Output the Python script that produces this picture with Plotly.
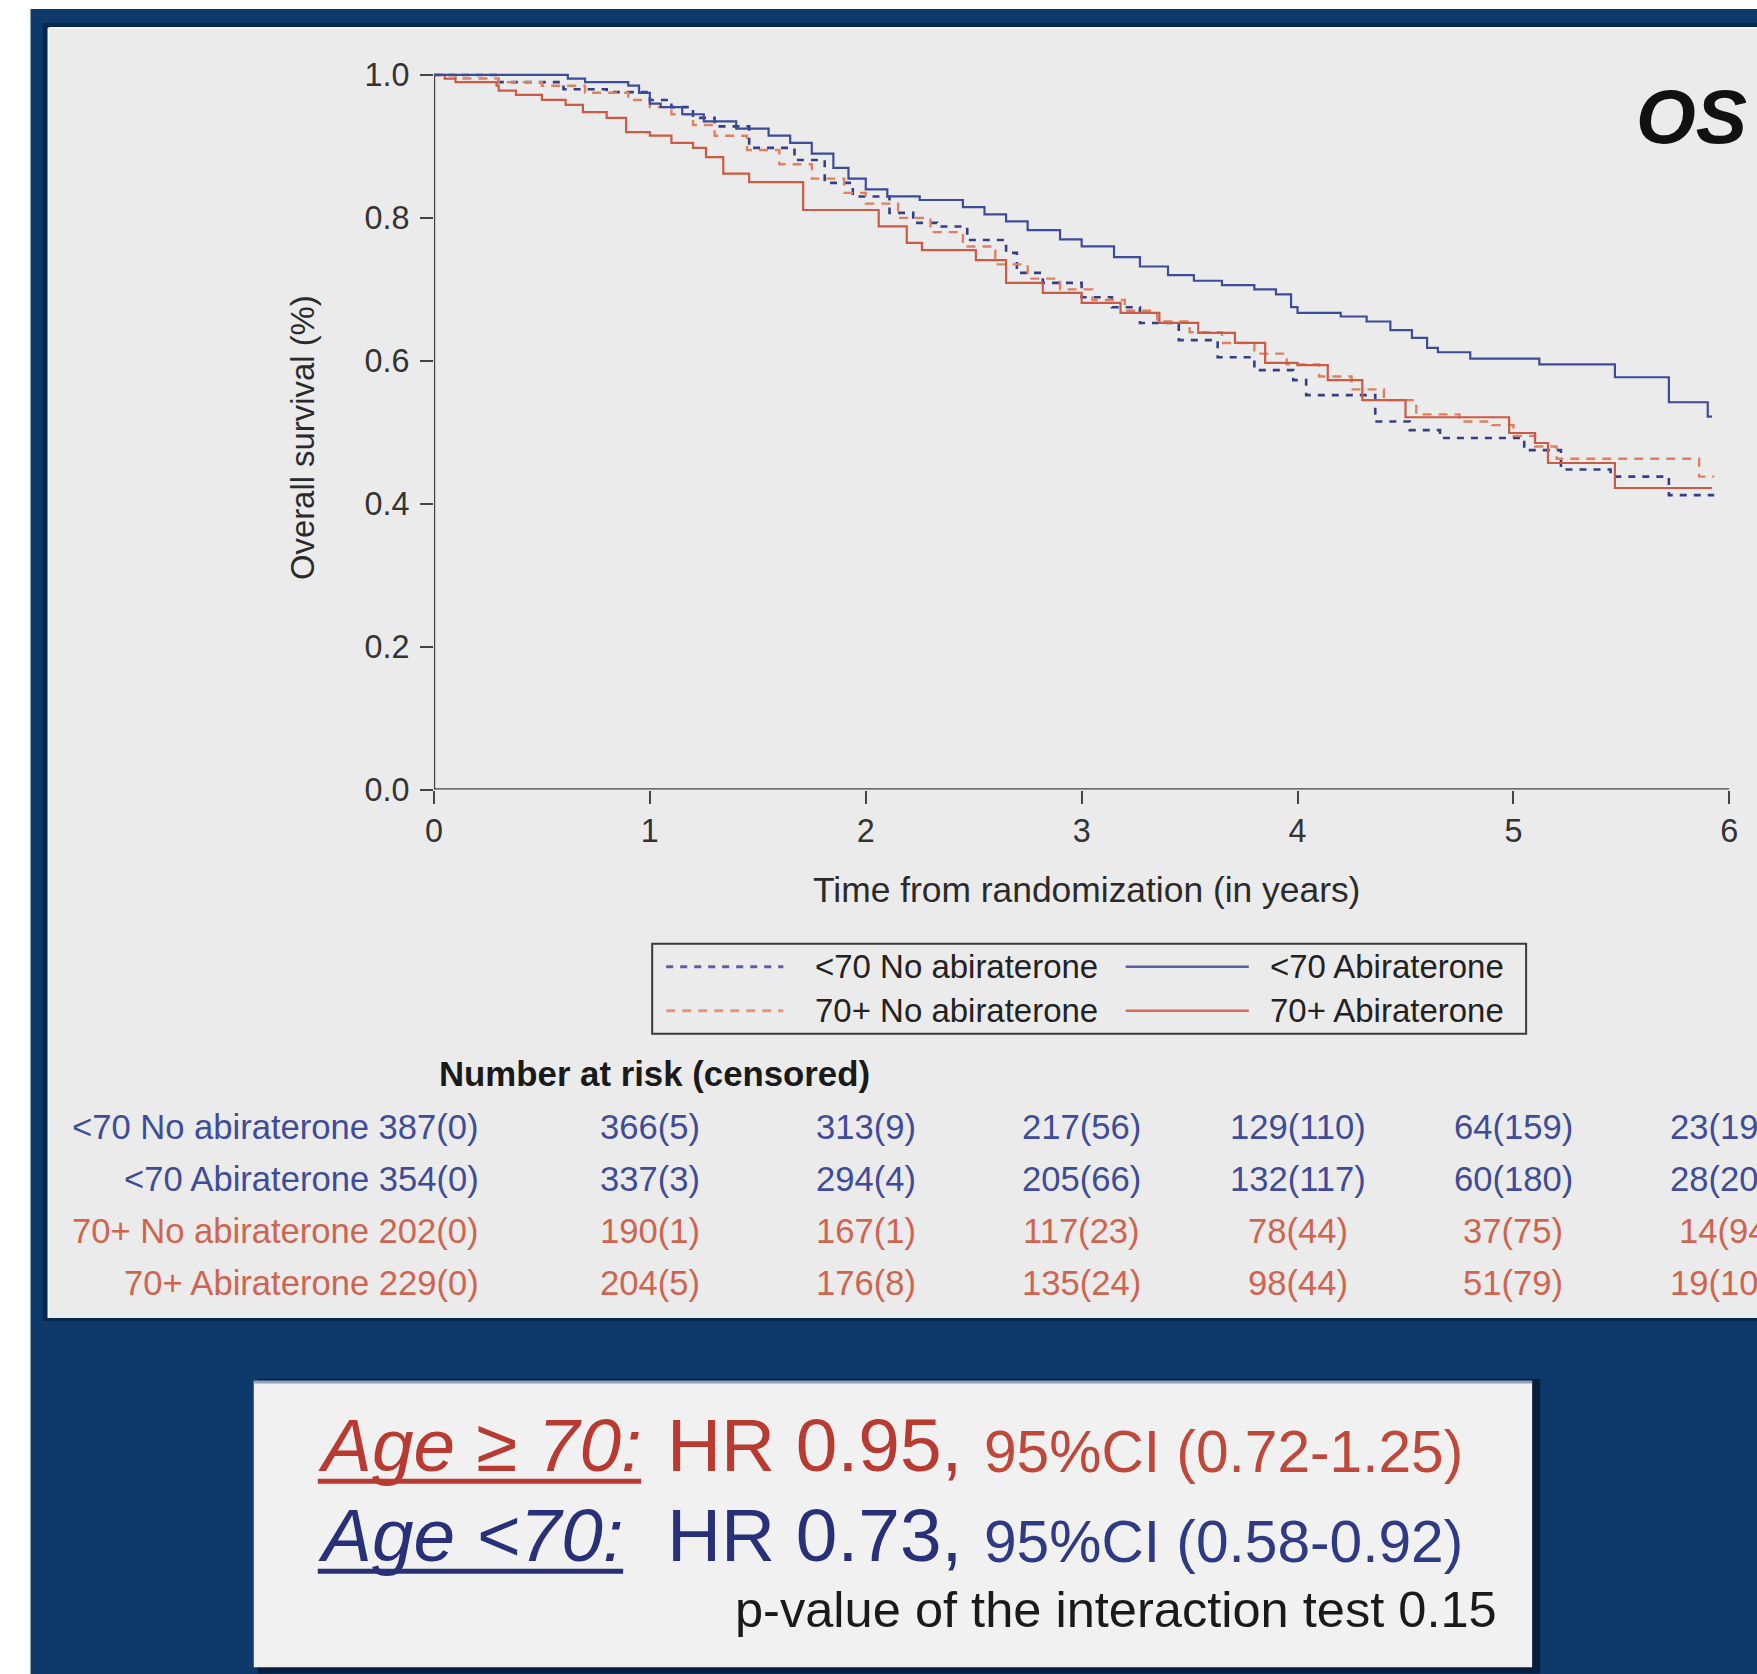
import plotly.graph_objects as go

# ---------------------------------------------------------------- data
# Kaplan-Meier step curves: time (years) and overall survival
t_u70_noabi = [0, 0.30, 0.60, 0.80, 1.00, 1.10, 1.20, 1.30, 1.46, 1.67, 1.81, 1.94, 2.11, 2.22,
               2.33, 2.47, 2.65, 2.70, 2.82, 3.00, 3.14, 3.27, 3.45, 3.63, 3.80, 3.98, 4.04,
               4.36, 4.52, 4.66, 5.05, 5.22, 5.45, 5.72, 5.93]
s_u70_noabi = [1.0, 0.99, 0.98, 0.976, 0.965, 0.955, 0.94, 0.928, 0.898, 0.881, 0.849, 0.83, 0.807,
               0.793, 0.788, 0.769, 0.751, 0.723, 0.709, 0.689, 0.675, 0.653, 0.629, 0.605, 0.587,
               0.573, 0.552, 0.515, 0.503, 0.492, 0.475, 0.448, 0.438, 0.412, 0.412]

t_u70_abi = [0, 0.62, 0.70, 0.90, 0.95, 1.00, 1.05, 1.15, 1.25, 1.40, 1.55, 1.65, 1.75, 1.85, 1.92,
             2.00, 2.10, 2.25, 2.45, 2.55, 2.65, 2.75, 2.90, 3.00, 3.15, 3.27, 3.40, 3.52, 3.65,
             3.80, 3.90, 3.97, 4.00, 4.20, 4.32, 4.43, 4.53, 4.60, 4.65, 4.80, 5.12, 5.47, 5.72,
             5.90, 5.92]
s_u70_abi = [1.0, 0.995, 0.99, 0.985, 0.975, 0.96, 0.955, 0.945, 0.935, 0.925, 0.915, 0.905, 0.89,
             0.87, 0.855, 0.84, 0.83, 0.825, 0.815, 0.805, 0.795, 0.783, 0.77, 0.76, 0.745, 0.732,
             0.72, 0.712, 0.706, 0.70, 0.693, 0.675, 0.667, 0.662, 0.655, 0.643, 0.632, 0.618,
             0.612, 0.603, 0.595, 0.577, 0.542, 0.522, 0.522]

t_o70_noabi = [0, 0.10, 0.30, 0.50, 0.70, 0.90, 1.00, 1.10, 1.20, 1.30, 1.45, 1.60, 1.75, 1.90,
               2.00, 2.15, 2.30, 2.45, 2.60, 2.75, 2.90, 3.05, 3.20, 3.35, 3.50, 3.65, 3.80, 3.95,
               4.10, 4.25, 4.40, 4.55, 4.75, 4.90, 5.00, 5.10, 5.20, 5.86, 5.93]
s_o70_noabi = [1.0, 0.995, 0.99, 0.985, 0.975, 0.965, 0.955, 0.945, 0.93, 0.915, 0.895, 0.875,
               0.855, 0.835, 0.82, 0.80, 0.78, 0.76, 0.735, 0.715, 0.70, 0.685, 0.67, 0.655, 0.64,
               0.625, 0.61, 0.595, 0.578, 0.56, 0.545, 0.525, 0.515, 0.51, 0.495, 0.48, 0.463,
               0.438, 0.438]

t_o70_abi = [0, 0.05, 0.10, 0.29, 0.30, 0.38, 0.50, 0.61, 0.69, 0.80, 0.89, 1.00, 1.10, 1.20, 1.26,
             1.34, 1.46, 1.71, 2.06, 2.19, 2.26, 2.51, 2.65, 2.82, 3.00, 3.18, 3.36, 3.54, 3.71,
             3.85, 4.00, 4.14, 4.30, 4.50, 4.98, 5.10, 5.16, 5.47, 5.92]
s_o70_abi = [1.0, 0.995, 0.99, 0.985, 0.978, 0.972, 0.965, 0.958, 0.948, 0.94, 0.92, 0.915,
             0.905, 0.898, 0.885, 0.862, 0.85, 0.811, 0.788, 0.765, 0.755, 0.741, 0.709, 0.695,
             0.681, 0.667, 0.653, 0.639, 0.625, 0.597, 0.594, 0.573, 0.545, 0.521, 0.499, 0.485,
             0.457, 0.422, 0.422]

x_ticks = [0, 1, 2, 3, 4, 5, 6]
y_ticks = [0.0, 0.2, 0.4, 0.6, 0.8, 1.0]

# number at risk table (censored in brackets), yearly
risk_labels = ["<70 No abiraterone", "<70 Abiraterone", "70+ No abiraterone", "70+ Abiraterone"]
at_risk_u70_noabi = [387, 366, 313, 217, 129, 64, 23]
at_risk_u70_abi = [354, 337, 294, 205, 132, 60, 28]
at_risk_o70_noabi = [202, 190, 167, 117, 78, 37, 14]
at_risk_o70_abi = [229, 204, 176, 135, 98, 51, 19]
cens_u70_noabi = [0, 5, 9, 56, 110, 159, 192]
cens_u70_abi = [0, 3, 4, 66, 117, 180, 203]
cens_o70_noabi = [0, 1, 1, 23, 44, 75, 94]
cens_o70_abi = [0, 5, 8, 24, 44, 79, 103]

hr_old = "0.95"
ci_old = "(0.72-1.25)"
hr_young = "0.73"
ci_young = "(0.58-0.92)"
p_interaction = "0.15"

# ---------------------------------------------------------------- styling
W, H = 1757, 1674
FONT = "Liberation Sans, Arial, Helvetica, sans-serif"
NAVY_BG = "#0d3a6b"
PANEL = "#ebebeb"
BLUE = "#3d4c98"
BLUE_D = "#343f86"
RED = "#cc5a44"
RED_D = "#e0805f"
TXT_BLUE = "#3f4c99"
TXT_RED = "#cf6550"
HR_RED = "#b83a30"
HR_BLUE = "#28307a"
DASH_BLUE = "7px,7px"
DASH_RED = "9px,7px"

# the paper area sits slightly inset inside the page, so pixel targets are
# mapped through that placement
SX, OX = 0.9887, 10.5
SY, OY = 0.983, 9.1
FS = 1 / SX


def px(x):
    return ((x - OX) / SX) / W


def py(y):
    return 1 - ((y - OY) / SY) / H


def fs(size):
    return size * FS


# plot area targets in pixels
X0, X6 = 435, 1729
Y0, Y1 = 789, 75
y_top = 1.012
per_unit = (Y0 - Y1)

fig = go.Figure()

curves = [
    (t_u70_noabi, s_u70_noabi, BLUE_D, DASH_BLUE, 2.6),
    (t_o70_noabi, s_o70_noabi, RED_D, DASH_RED, 2.4),
    (t_o70_abi, s_o70_abi, RED, "solid", 2.2),
    (t_u70_abi, s_u70_abi, BLUE, "solid", 2.2),
]
for tt, ss, col, dash, w in curves:
    fig.add_trace(go.Scatter(x=tt, y=ss, mode="lines", line=dict(color=col, width=w, dash=dash, shape="hv"),
                             hoverinfo="skip", showlegend=False))

shapes = []
# white outer edges of the frame (left and top)
shapes.append(dict(type="rect", xref="paper", yref="paper", x0=px(-20), x1=px(32), y0=py(1700), y1=py(-20),
                   fillcolor="white", line=dict(width=0), layer="below"))
shapes.append(dict(type="rect", xref="paper", yref="paper", x0=px(-20), x1=px(1780), y0=py(9), y1=py(-20),
                   fillcolor="white", line=dict(width=0), layer="below"))
# chart panel with a soft shadow
shapes.append(dict(type="rect", xref="paper", yref="paper", x0=px(44), x1=px(1780), y0=py(1320), y1=py(23),
                   fillcolor="#07284d", line=dict(width=0), layer="below"))
shapes.append(dict(type="rect", xref="paper", yref="paper", x0=px(50), x1=px(1780), y0=py(1317), y1=py(28),
                   fillcolor=PANEL, line=dict(width=0), layer="below"))
shapes.append(dict(type="line", xref="paper", yref="paper", x0=px(50), x1=px(50), y0=py(1317), y1=py(28),
                   line=dict(color="#f7f7f7", width=2), layer="below"))
shapes.append(dict(type="line", xref="paper", yref="paper", x0=px(50), x1=px(1780), y0=py(28), y1=py(28),
                   line=dict(color="#f7f7f7", width=2), layer="below"))
# summary box with shadow
shapes.append(dict(type="rect", xref="paper", yref="paper", x0=px(259), x1=px(1540), y0=py(1672), y1=py(1378),
                   fillcolor="#061f3d", line=dict(width=0), layer="below"))
shapes.append(dict(type="rect", xref="paper", yref="paper", x0=px(255), x1=px(1532), y0=py(1666), y1=py(1380),
                   fillcolor="#f1f1f1", line=dict(width=0), layer="below"))
shapes.append(dict(type="line", xref="paper", yref="paper", x0=px(255), x1=px(1532), y0=py(1381), y1=py(1381),
                   line=dict(color="#8fa3bd", width=3), layer="below"))

# axis lines
shapes.append(dict(type="line", xref="x", yref="y", x0=0, x1=0, y0=0, y1=1.0,
                   line=dict(color="#444444", width=2.5)))
shapes.append(dict(type="line", xref="x", yref="y", x0=0, x1=6, y0=0, y1=0,
                   line=dict(color="#444444", width=2.5)))

# legend box and samples
shapes.append(dict(type="rect", xref="paper", yref="paper", x0=px(653), x1=px(1526), y0=py(1033), y1=py(943),
                   fillcolor="rgba(0,0,0,0)", line=dict(color="#3a3a3a", width=2)))
legend_rows = [
    (966, "#5563a3", DASH_BLUE, "<70 No abiraterone", "#56649e", "<70 Abiraterone"),
    (1010, "#e5957a", DASH_RED, "70+ No abiraterone", "#d46e5c", "70+ Abiraterone"),
]
annotations = []
for yy, c1, d1, lab1, c2, lab2 in legend_rows:
    shapes.append(dict(type="line", xref="paper", yref="paper", x0=px(667), x1=px(784), y0=py(yy), y1=py(yy),
                       line=dict(color=c1, width=3, dash=d1)))
    shapes.append(dict(type="line", xref="paper", yref="paper", x0=px(1126), x1=px(1249), y0=py(yy), y1=py(yy),
                       line=dict(color=c2, width=2.6)))
    annotations.append(dict(text=lab1, x=px(814), y=py(yy), xref="paper", yref="paper", xanchor="left",
                            yanchor="middle", showarrow=False, font=dict(family=FONT, size=fs(32.6), color="#222")))
    annotations.append(dict(text=lab2, x=px(1268), y=py(yy), xref="paper", yref="paper", xanchor="left",
                            yanchor="middle", showarrow=False, font=dict(family=FONT, size=fs(32.6), color="#222")))

# axis titles
annotations.append(dict(text="Time from randomization (in years)", x=px(1087), y=py(889), xref="paper",
                        yref="paper", showarrow=False, xanchor="center", yanchor="middle",
                        font=dict(family=FONT, size=fs(35), color="#2a2a2a")))
annotations.append(dict(text="Overall survival (%)", x=px(303), y=py(437), xref="paper", yref="paper",
                        showarrow=False, textangle=-90, xanchor="center", yanchor="middle",
                        font=dict(family=FONT, size=fs(32.5), color="#2a2a2a")))
# panel title
annotations.append(dict(text="<b><i>OS</i></b>", x=px(1634), y=py(116), xref="paper", yref="paper",
                        showarrow=False, xanchor="left", yanchor="middle",
                        font=dict(family=FONT, size=fs(76), color="#111")))

# number at risk table
annotations.append(dict(text="<b>Number at risk (censored)</b>", x=px(655), y=py(1073), xref="paper",
                        yref="paper", showarrow=False, xanchor="center", yanchor="middle",
                        font=dict(family=FONT, size=fs(34.4), color="#1a1a1a")))
risk_rows = [
    (at_risk_u70_noabi, cens_u70_noabi, TXT_BLUE, 1126),
    (at_risk_u70_abi, cens_u70_abi, TXT_BLUE, 1178),
    (at_risk_o70_noabi, cens_o70_noabi, TXT_RED, 1230),
    (at_risk_o70_abi, cens_o70_abi, TXT_RED, 1282),
]
for (n, c, col, yy), lab in zip(risk_rows, risk_labels):
    annotations.append(dict(text=f"{lab} {n[0]}({c[0]})", x=px(482), y=py(yy), xref="paper", yref="paper",
                            showarrow=False, xanchor="right", yanchor="middle",
                            font=dict(family=FONT, size=fs(34.2), color=col)))
    for k in range(1, len(n)):
        annotations.append(dict(text=f"{n[k]}({c[k]})", x=x_ticks[k], y=py(yy), xref="x", yref="paper",
                                showarrow=False, xanchor="center", yanchor="middle",
                                font=dict(family=FONT, size=fs(34.2), color=col)))

# hazard ratio summary
hr_lines = [
    ("<i>Age \u2265 70:</i>", f"HR {hr_old},", f"95%CI {ci_old}", HR_RED, "#c0483a", 1470, 642),
    ("<i>Age &lt;70:</i>", f"HR {hr_young},", f"95%CI {ci_young}", HR_BLUE, "#2f3a86", 1560, 624),
]
for lab, hr, ci, col, col_ci, base, ul_end in hr_lines:
    annotations.append(dict(text=lab, x=px(317), y=py(base - 26), xref="paper", yref="paper", showarrow=False,
                            xanchor="left", yanchor="middle", font=dict(family=FONT, size=fs(74), color=col)))
    annotations.append(dict(text=hr, x=px(666), y=py(base - 26), xref="paper", yref="paper", showarrow=False,
                            xanchor="left", yanchor="middle", font=dict(family=FONT, size=fs(74), color=col)))
    annotations.append(dict(text=ci, x=px(982), y=py(base - 20), xref="paper", yref="paper", showarrow=False,
                            xanchor="left", yanchor="middle", font=dict(family=FONT, size=fs(58), color=col_ci)))
    shapes.append(dict(type="line", xref="paper", yref="paper", x0=px(319), x1=px(ul_end),
                       y0=py(base + 10), y1=py(base + 10), line=dict(color=col, width=5)))
annotations.append(dict(text=f"p-value of the interaction test {p_interaction}", x=px(1499), y=py(1608),
                        xref="paper", yref="paper", showarrow=False, xanchor="right", yanchor="middle",
                        font=dict(family=FONT, size=fs(50), color="#1a1a1a")))

fig.update_layout(
    width=W, height=H,
    margin=dict(l=0, r=0, t=0, b=0),
    paper_bgcolor=NAVY_BG,
    plot_bgcolor="rgba(0,0,0,0)",
    shapes=shapes,
    annotations=annotations,
    showlegend=False,
    xaxis=dict(domain=[px(X0), px(X6)], range=[0, 6], tickvals=x_ticks, ticks="outside", ticklen=13,
               tickwidth=2, tickcolor="#444", showgrid=False, zeroline=False, showline=False,
               tickfont=dict(family=FONT, size=fs(32), color="#333")),
    yaxis=dict(domain=[py(Y0), py(Y0 - y_top * per_unit)], range=[0, y_top], tickvals=y_ticks,
               tickformat=".1f", ticks="outside", ticklen=13, tickwidth=2, tickcolor="#444",
               showgrid=False, zeroline=False, showline=False, ticklabelstandoff=4,
               tickfont=dict(family=FONT, size=fs(32), color="#333")),
)

fig.write_html("out.html")
